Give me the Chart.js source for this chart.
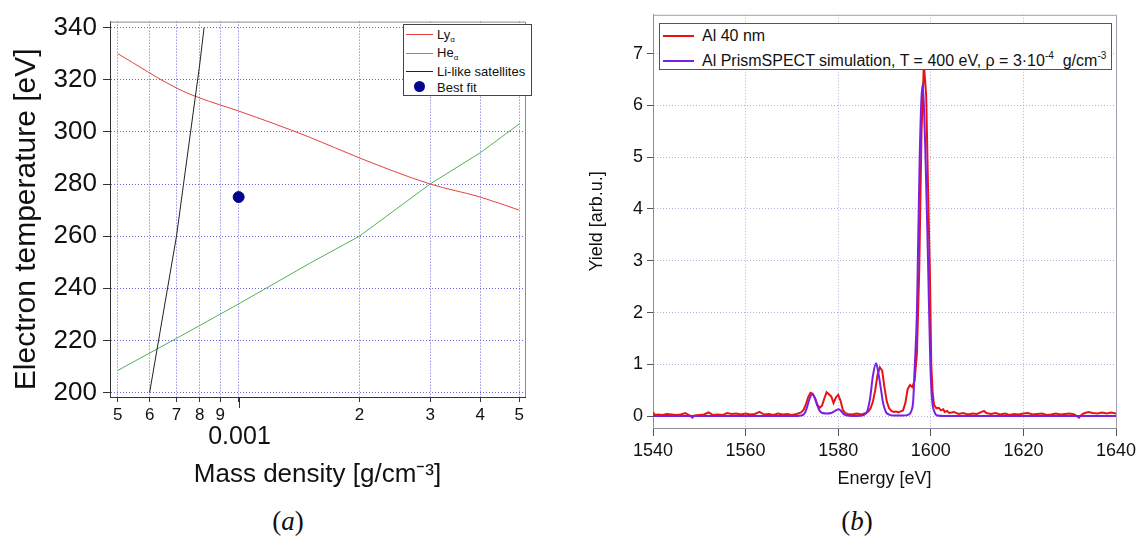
<!DOCTYPE html>
<html>
<head>
<meta charset="utf-8">
<script src="https://cdn.jsdelivr.net/npm/chart.js@4.4.1/dist/chart.umd.min.js"></script>
<style>
html,body{margin:0;padding:0;background:#fff;width:1142px;height:538px;overflow:hidden;font-family:"Liberation Sans",Arial,sans-serif;color:#111;}
#ca{position:absolute;left:0;top:0;}
#cb{position:absolute;left:580px;top:0;}
.cap{position:absolute;top:505px;height:32px;line-height:32px;text-align:center;font-family:"Liberation Serif","DejaVu Serif",serif;font-size:27px;color:#111;}
.cap i{font-style:italic;}
.leg{position:absolute;background:#fff;box-sizing:border-box;}
.sw{position:absolute;}
.tx{position:absolute;white-space:nowrap;line-height:1;}
#legA{left:403px;top:24px;width:129px;height:72px;border:1px solid #444;font-size:13px;}
#legA sub{font-size:8px;vertical-align:-3px;line-height:0;}
#legB{left:659px;top:23px;width:453px;height:47px;border:1px solid #555;font-size:16px;}
#legB sup{font-size:10px;vertical-align:7px;line-height:0;}
</style>
</head>
<body>
<canvas id="ca" width="560" height="490"></canvas>
<canvas id="cb" width="562" height="494"></canvas>

<div id="legA" class="leg">
  <div class="sw" style="left:2px;top:9px;width:27px;height:1px;background:#e3413f;"></div>
  <div class="tx" style="left:33px;top:3px;">Ly<sub>α</sub></div>
  <div class="sw" style="left:2px;top:28px;width:27px;height:1px;background:#55b055;"></div>
  <div class="tx" style="left:33px;top:21px;">He<sub>α</sub></div>
  <div class="sw" style="left:2px;top:46px;width:27px;height:1px;background:#222;"></div>
  <div class="tx" style="left:33px;top:40px;">Li-like satellites</div>
  <div class="sw" style="left:10px;top:56px;width:11px;height:11px;border-radius:50%;background:#06068c;"></div>
  <div class="tx" style="left:33px;top:56px;">Best fit</div>
</div>

<div id="legB" class="leg">
  <div class="sw" style="left:3px;top:11px;width:31px;height:2px;background:#e81414;"></div>
  <div class="tx" style="left:42px;top:4px;">Al 40 nm</div>
  <div class="sw" style="left:3px;top:36px;width:31px;height:2px;background:#7a1fe6;"></div>
  <div class="tx" style="left:42px;top:29px;">Al PrismSPECT simulation, T = 400 eV, ρ = 3·10<sup>-4</sup>&nbsp; g/cm<sup>-3</sup></div>
</div>

<div class="cap" style="left:0;width:576px;">(<i>a</i>)</div>
<div class="cap" style="left:580px;width:554px;">(<i>b</i>)</div>

<script>
// ---------- Panel (a) data ----------
const lyDensity  = [0.0005, 0.0007, 0.0008, 0.001, 0.0015, 0.002, 0.003, 0.004, 0.005];
const lyTemp     = [330,    316.8,  313,    308,   298,    290,   280,   275,   270];
const heDensity  = [0.0005, 0.0007, 0.001, 0.0015, 0.002, 0.003, 0.004, 0.005];
const heTemp     = [208.5,  220.8,  234,   249.5,  260,   280,   292,   303];
const liDensity  = [0.0006, 0.0007, 0.0008, 0.00082];
const liTemp     = [200,    260,    326,    340];
const bestFitDensity = [0.001];
const bestFitTemp    = [275];
const densityTicks      = [0.0005, 0.0006, 0.0007, 0.0008, 0.0009, 0.001, 0.002, 0.003, 0.004, 0.005];
const densityTickLabels = ['5', '6', '7', '8', '9', '', '2', '3', '4', '5'];
const decadeValue = 0.001;
const decadeLabel = '0.001';
const tempTicks = [200, 220, 240, 260, 280, 300, 320, 340];
const tempTitle = 'Electron temperature [eV]';

// ---------- Panel (b) data ----------
const redEnergy = [1540,1540.5,1541,1542,1543,1544,1545,1546,1547,1547.5,1548,1548.5,1549,1550,1551,1552,1553,1554,1555,1556,1557,1558,1559,1560,1561,1562,1563,1564,1565,1566,1567,1568,1569,1570,1571,1572,1572.5,1573,1573.5,1574,1574.5,1575,1575.5,1576,1576.5,1577,1577.5,1578,1578.5,1579,1579.5,1580,1580.5,1581,1581.5,1582,1583,1584,1585,1586,1586.5,1587,1587.5,1588,1588.5,1589,1589.5,1590,1590.5,1591,1591.5,1592,1592.5,1593,1593.5,1594,1594.5,1595,1595.5,1596,1596.5,1597,1597.5,1598,1598.5,1599,1599.5,1599.8,1600.1,1600.4,1600.7,1601.2,1601.7,1602.2,1602.7,1603,1603.5,1604,1605,1606,1607,1608,1609,1610,1611,1611.5,1612,1613,1614,1615,1616,1617,1618,1619,1620,1621,1622,1623,1624,1625,1626,1627,1628,1629,1630,1631,1632,1632.5,1633,1634,1635,1636,1637,1638,1639,1640];
const redYield  = [0.07,0.02,0.03,0.02,0.04,0.03,0.02,0.03,0.06,0.03,0.01,-0.03,0.01,0.02,0.03,0.07,0.02,0.03,0.02,0.06,0.04,0.05,0.03,0.05,0.03,0.04,0.08,0.03,0.04,0.02,0.05,0.03,0.04,0.02,0.04,0.07,0.12,0.22,0.36,0.45,0.43,0.34,0.22,0.16,0.2,0.34,0.46,0.42,0.38,0.25,0.36,0.41,0.3,0.12,0.06,0.04,0.03,0.05,0.03,0.06,0.09,0.15,0.28,0.5,0.8,0.94,0.88,0.55,0.28,0.15,0.1,0.08,0.09,0.07,0.09,0.11,0.25,0.52,0.6,0.56,0.68,1.2,2.8,5.5,6.8,6.2,4.0,2.8,1.0,0.45,0.22,0.15,0.16,0.11,0.13,0.08,0.1,0.06,0.08,0.04,0.06,0.03,0.05,0.04,0.08,0.1,0.06,0.04,0.06,0.03,0.05,0.02,0.04,0.03,0.05,0.06,0.03,0.04,0.05,0.02,0.03,0.05,0.03,0.04,0.05,0.03,-0.03,0.02,0.05,0.08,0.06,0.05,0.07,0.05,0.07,0.05];
const simEnergy = [1540,1550,1560,1570,1572,1572.8,1573.3,1573.8,1574.4,1575,1575.5,1576,1576.6,1577.5,1578.5,1579.3,1580.1,1580.7,1581.3,1582,1584,1585.5,1586.3,1586.9,1587.5,1588.2,1588.7,1589.2,1589.7,1590.3,1591,1592,1594,1595.2,1595.8,1596.2,1596.5,1597,1597.2,1597.6,1598.2,1598.8,1599.4,1599.9,1600.3,1600.8,1601.4,1603,1620,1640];
const simYield  = [0,0,0,0,0.01,0.06,0.18,0.33,0.42,0.34,0.2,0.1,0.06,0.05,0.06,0.1,0.13,0.09,0.03,0.01,0,0.02,0.1,0.35,0.78,1.02,0.82,0.54,0.25,0.08,0.03,0.01,0.01,0.03,0.1,0.3,0.9,2.0,3.0,5.0,6.4,5.2,3.0,1.0,0.3,0.08,0.01,0,0,0];
const energyTicks      = [1540, 1560, 1580, 1600, 1620, 1640];
const energyTickLabels = ['1540', '1560', '1580', '1600', '1620', '1640'];
const yieldTicks       = [0, 1, 2, 3, 4, 5, 6, 7];
const yieldTickLabels  = ['0', '1', '2', '3', '4', '5', '6', '7'];

const pts = (xs, ys) => xs.map((x, i) => ({x: x, y: ys[i]}));

Chart.defaults.font.family = '"Liberation Sans", Arial, sans-serif';
Chart.defaults.color = '#111';

const frameA = {
  id: 'frameA',
  afterDraw(chart) {
    const {ctx, chartArea: a, scales: {x, y}} = chart;
    ctx.save();
    ctx.strokeStyle = '#8a8a8a';
    ctx.lineWidth = 1;
    ctx.beginPath();
    ctx.moveTo(a.left, a.top + 0.5);
    ctx.lineTo(a.right + 0.5, a.top + 0.5);
    ctx.lineTo(a.right + 0.5, a.bottom);
    ctx.stroke();
    const px = Math.round(x.getPixelForValue(decadeValue)) + 0.5;
    ctx.strokeStyle = '#333';
    ctx.beginPath();
    ctx.moveTo(px, a.bottom);
    ctx.lineTo(px, a.bottom + 11);
    ctx.stroke();
    ctx.fillStyle = '#111';
    ctx.font = '25px "Liberation Sans", Arial, sans-serif';
    ctx.textAlign = 'center';
    ctx.textBaseline = 'middle';
    ctx.fillText(decadeLabel, px, a.bottom + 40);
    // y-axis title, centred slightly below the plot middle as in the original
    ctx.translate(y.left + 27, (a.top + a.bottom) / 2 + 10);
    ctx.rotate(-Math.PI / 2);
    ctx.font = '30px "Liberation Sans", Arial, sans-serif';
    ctx.fillText(tempTitle, 0, 0);
    ctx.restore();
  }
};

const frameB = {
  id: 'frameB',
  afterDraw(chart) {
    const {ctx, chartArea: a} = chart;
    ctx.save();
    ctx.strokeStyle = '#a0a0ac';
    ctx.lineWidth = 1;
    ctx.beginPath();
    ctx.moveTo(a.left, a.top + 0.5);
    ctx.lineTo(a.right + 0.5, a.top + 0.5);
    ctx.lineTo(a.right + 0.5, a.bottom);
    ctx.stroke();
    ctx.restore();
  }
};

new Chart(document.getElementById('ca'), {
  type: 'scatter',
  data: {
    datasets: [
      {label: 'Best fit', data: pts(bestFitDensity, bestFitTemp), backgroundColor: '#06068c', borderColor: '#06068c', pointRadius: 5.5, showLine: false},
      {label: 'Li-like satellites', data: pts(liDensity, liTemp), showLine: true, borderColor: '#222', borderWidth: 1, pointRadius: 0},
      {label: 'Lyα', data: pts(lyDensity, lyTemp), showLine: true, borderColor: '#e3413f', borderWidth: 1, pointRadius: 0, cubicInterpolationMode: 'monotone'},
      {label: 'Heα', data: pts(heDensity, heTemp), showLine: true, borderColor: '#55b055', borderWidth: 1, pointRadius: 0}
    ]
  },
  options: {
    responsive: false, animation: false, devicePixelRatio: 1,
    layout: {padding: {top: 16, right: 35, left: 0, bottom: 0}},
    plugins: {legend: {display: false}, tooltip: {enabled: false}},
    scales: {
      x: {
        type: 'logarithmic', min: 0.000478, max: 0.00517,
        afterBuildTicks: s => { s.ticks = densityTicks.map(v => ({value: v})); },
        afterFit: s => { s.height = 93; },
        ticks: {autoSkip: false, maxRotation: 0, font: {size: 17}, padding: 3, callback: (v, i) => densityTickLabels[i]},
        grid: {color: '#6464dc', lineWidth: 1, tickLength: 5, tickColor: '#333'},
        border: {color: '#333', dash: [1, 2]},
        title: {display: true, text: 'Mass density [g/cm⁻³]', font: {size: 26}, padding: {top: 0, bottom: 0}}
      },
      y: {
        min: 198.3, max: 342.3,
        afterBuildTicks: s => { s.ticks = tempTicks.map(v => ({value: v})); },
        afterFit: s => { s.width = 110; },
        ticks: {font: {size: 26}, padding: 6},
        grid: {color: '#6464dc', lineWidth: 1, tickLength: 7, tickColor: '#333'},
        border: {color: '#333', dash: [1, 2]},
        title: {display: false}
      }
    }
  },
  plugins: [frameA]
});

new Chart(document.getElementById('cb'), {
  type: 'scatter',
  data: {
    datasets: [
      {label: 'Al PrismSPECT simulation, T = 400 eV, ρ = 3·10⁻⁴ g/cm⁻³', data: pts(simEnergy, simYield), showLine: true, borderColor: '#7a1fe6', borderWidth: 2, pointRadius: 0, cubicInterpolationMode: 'monotone'},
      {label: 'Al 40 nm', data: pts(redEnergy, redYield), showLine: true, borderColor: '#e81414', borderWidth: 2, pointRadius: 0}
    ]
  },
  options: {
    responsive: false, animation: false, devicePixelRatio: 1,
    layout: {padding: {top: 10, right: 26, left: 0, bottom: 0}},
    plugins: {legend: {display: false}, tooltip: {enabled: false}},
    scales: {
      x: {
        type: 'linear', min: 1540, max: 1640,
        afterBuildTicks: s => { s.ticks = energyTicks.map(v => ({value: v})); },
        afterFit: s => { s.height = 66; },
        ticks: {autoSkip: false, maxRotation: 0, font: {size: 18}, padding: 4, callback: (v, i) => energyTickLabels[i]},
        grid: {color: '#b0b0dc', lineWidth: 1, tickLength: 8, tickColor: '#555'},
        border: {color: '#8c8c9c', dash: [1, 2]},
        title: {display: true, text: 'Energy [eV]', font: {size: 18}, padding: {top: 0, bottom: 4}}
      },
      y: {
        min: -0.23, max: 7.75,
        afterBuildTicks: s => { s.ticks = yieldTicks.map(v => ({value: v})); },
        afterFit: s => { s.width = 73; },
        ticks: {font: {size: 18}, padding: 4, callback: (v, i) => yieldTickLabels[i]},
        grid: {color: '#b0b0dc', lineWidth: 1, tickLength: 6, tickColor: '#555'},
        border: {color: '#8c8c9c', dash: [1, 2]},
        title: {display: true, text: 'Yield [arb.u.]', font: {size: 18}, padding: {top: 6, bottom: 0}}
      }
    }
  },
  plugins: [frameB]
});
</script>
</body>
</html>
